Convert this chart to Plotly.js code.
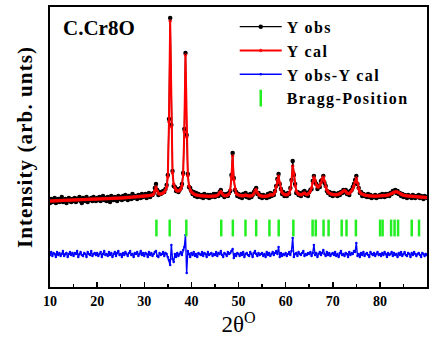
<!DOCTYPE html>
<html>
<head>
<meta charset="utf-8">
<script src="https://cdn.plot.ly/plotly-3.0.1.min.js"></script>
<style>
html,body{margin:0;padding:0;background:#fff;}
#chart{width:433px;height:340px;}
#chart .legendtext{letter-spacing:1.4px;}
#chart .legend .scrollbox{clip-path:none !important;}
#chart .ytitle{letter-spacing:1.1px;}
</style>
</head>
<body>
<div id="chart"></div>
<script>
// 2-theta grid: start and step of the scan
const twoThetaStart = 10;
const twoThetaStep = 0.25;

// Observed intensity (arb. units), one value per step from 10 to 90
const yObs = [
  84,88,85,87,89,84,86,88,85,87,90,85,86,88,84,87,89,86,85,88,
  86,89,85,88,87,90,86,84,89,87,86,90,85,88,87,89,86,90,87,86,
  89,87,90,86,88,91,87,89,86,90,88,85,91,88,87,90,89,86,91,88,
  90,87,91,88,92,89,87,91,90,88,93,89,91,90,88,92,91,89,93,90,
  91,93,89,92,94,90,93,92,94,99,103,97,92,95,93,94,96,95,98,102,
  112,168,269,162,116,101,100,96,98,95,97,99,103,114,158,234,152,113,100,99,
  96,93,95,91,94,90,93,92,90,92,89,93,91,90,92,89,92,90,91,93,
  90,93,92,91,95,97,92,93,90,92,93,91,94,96,112,134,109,97,95,91,
  93,90,92,89,93,91,94,90,92,89,93,90,92,95,97,99,93,94,90,92,
  89,92,90,91,89,93,90,94,91,93,92,96,101,108,113,103,98,93,95,91,
  93,91,94,93,99,107,126,112,103,94,95,92,94,91,93,95,96,92,94,91,
  95,97,98,106,111,105,103,98,101,100,106,107,111,104,101,96,94,95,92,94,
  91,94,92,93,91,94,92,95,94,97,95,97,93,95,92,96,97,100,103,107,
  111,103,99,94,95,91,93,91,92,90,93,90,92,89,91,90,92,89,91,90,
  92,90,93,91,90,93,91,93,91,94,93,96,95,97,94,96,93,94,91,93,
  90,92,91,89,92,90,91,89,92,90,89,91,90,92,89,91,90,88,91,90,
  89
];

// Calculated intensity
const yCal = [
  86,86,86,86.1,86.2,86.2,86.3,86.3,86.4,86.5,86.5,86.6,86.6,86.7,86.7,86.8,86.8,86.9,86.9,87,
  87,87.1,87.1,87.2,87.2,87.3,87.3,87.4,87.4,87.5,87.5,87.6,87.6,87.7,87.7,87.8,87.8,87.9,87.9,88,
  88,88,88.1,88.1,88.2,88.2,88.3,88.3,88.4,88.4,88.5,88.5,88.6,88.6,88.7,88.7,88.8,88.8,88.9,88.9,
  89,89,89.1,89.2,89.3,89.4,89.5,89.6,89.7,89.8,89.9,90,90.1,90.2,90.3,90.4,90.5,90.6,90.7,90.8,
  90.9,91,91.1,91.2,91.4,91.6,91.8,92.2,93,96,100,96,93.5,93,93,93.5,94,95,97,100,
  110,165,266,160,114,103,99,97,96,96,96.5,98,101,112,155,232,150,111,101,97,
  95,94,93,92.5,92,91.8,91.6,91.4,91.2,91,91,90.9,90.8,90.8,90.7,90.7,90.7,90.7,90.8,90.9,
  91,91.2,91.6,92.5,94.5,95.5,93.5,92,91.5,91.3,91.5,92,93,97,110,131,107,98,94,92.5,
  92,91.6,91.3,91.2,91.2,91.5,92,91.5,91.1,91,91,91.2,91.8,93.5,96.5,97.5,94.5,92.5,91.5,91,
  90.8,90.6,90.6,90.7,90.8,91,91.5,92.5,92,92,93,95,100,107,111,104,97,94.5,93.2,92.5,
  92.2,92.2,92.6,94,97.5,106,121,114,101,96,94,93,92.5,92.3,92.5,93.5,94,93,92.5,93,
  94,96,99,104,110,107,102,100,100,101.5,104,108,110,106,100,97,95,94,93.3,92.8,
  92.5,92.3,92.2,92.3,92.5,92.8,93.3,94,95,96,96.5,95.5,94,93.5,93.5,94.5,96,98,101,105,
  109,104,98,95,93.5,92.8,92.3,92,91.7,91.5,91.3,91.1,91,90.9,90.8,90.8,90.8,90.8,90.9,91,
  91.1,91.3,91.4,91.4,91.4,91.5,91.7,92,92.4,92.9,93.5,94.2,94.8,95.2,95.3,95,94.3,93.5,92.8,92.2,
  91.8,91.5,91.3,91.1,91,90.9,90.8,90.7,90.6,90.5,90.4,90.3,90.2,90.1,90,89.9,89.8,89.7,89.6,89.5,
  89.5
];

// Difference curve (Yobs - Ycal), plotted with an offset below the pattern
const yDiff = [
  32,35,31,34,33,30,35,32,34,31,33,36,31,33,34,30,33,35,32,34,
  31,34,33,36,30,33,35,32,31,34,33,30,35,33,32,36,31,33,34,32,
  34,31,33,35,30,33,36,32,33,31,35,32,34,30,33,35,31,34,36,32,
  33,30,34,32,35,33,31,34,36,32,33,30,34,33,35,31,33,36,32,34,
  31,34,33,30,35,32,34,31,33,35,36,31,30,34,32,33,35,31,34,33,
  30,27,22,42,28,25,33,30,34,31,33,35,32,37,40,52,14,36,33,30,
  34,32,35,31,33,30,34,33,32,35,31,34,33,30,35,32,33,34,31,33,
  32,35,31,34,33,36,32,30,34,33,31,35,33,34,36,38,29,33,31,34,
  33,31,34,32,35,30,33,34,32,31,35,33,30,34,36,33,31,34,32,33,
  34,31,33,30,35,32,34,31,33,35,32,34,36,33,40,30,34,31,33,32,
  34,31,33,35,32,36,49,30,33,34,31,35,33,32,34,36,31,33,32,34,
  33,35,31,34,42,32,34,30,33,35,32,34,37,33,31,35,32,34,31,33,
  34,32,35,31,33,30,34,36,32,33,31,34,33,30,35,32,34,33,36,35,
  44,31,33,30,34,32,35,31,33,34,32,30,35,33,32,34,31,33,35,32,
  33,31,34,32,35,33,30,34,32,33,35,31,34,32,33,30,34,32,35,31,
  33,35,32,31,34,33,30,34,32,35,33,31,33,34,32,30,34,33,31,33,
  32
];

// Bragg reflection positions (2-theta) and the level where their ticks are drawn
const braggPositions = [32.58,35.40,38.93,46.34,48.80,51.48,53.75,56.56,58.53,61.64,
  65.72,66.40,68.05,69.11,71.90,72.92,74.91,80.05,80.58,82.38,83.12,83.86,86.76,88.31];
const braggLevel = 59;

const xTicks = [10,20,30,40,50,60,70,80,90];
const sampleLabel = 'C.Cr8O';

const twoTheta = yObs.map((_, i) => twoThetaStart + i * twoThetaStep);
const braggY = braggPositions.map(() => braggLevel);

const serif = 'Liberation Serif, Times New Roman, serif';

const traces = [
  {x: twoTheta, y: yObs, name: 'Y obs', type: 'scatter', mode: 'lines+markers',
   line: {color: '#000', width: 1.3}, marker: {color: '#000', size: 4.5}},
  {x: twoTheta, y: yCal, name: 'Y cal', type: 'scatter', mode: 'lines+markers',
   line: {color: '#ff0000', width: 2}, marker: {color: '#ff0000', size: 2.5, symbol: 'circle-open'}},
  {x: twoTheta, y: yDiff, name: 'Y obs-Y cal', type: 'scatter', mode: 'lines+markers',
   line: {color: '#0000ff', width: 1.4}, marker: {color: '#0000ff', size: 2.5}},
  {x: braggPositions, y: braggY, name: 'Bragg-Position', type: 'scatter', mode: 'markers',
   marker: {symbol: 'line-ns', size: 12, color: '#22ee22', line: {color: '#22ee22', width: 2.5}}}
];

const layout = {
  width: 433, height: 340,
  margin: {l: 50, r: 6, t: 7, b: 53},
  paper_bgcolor: '#fff', plot_bgcolor: '#fff',
  showlegend: true,
  legend: {x: 0.49, y: 0.99, xanchor: 'left', yanchor: 'top', bgcolor: 'rgba(0,0,0,0)',
    itemwidth: 42,
    font: {family: serif, size: 16, color: '#000', weight: 'bold'}, tracegroupgap: 0},
  xaxis: {range: [10, 90], tickvals: xTicks, ticks: 'inside', ticklen: 5, tickwidth: 1.5,
    tickcolor: '#000', showline: true, linecolor: '#000', linewidth: 2, mirror: true,
    showgrid: false, zeroline: false,
    minor: {dtick: 5, ticks: 'inside', ticklen: 3, tickwidth: 1.5, tickcolor: '#000'},
    tickfont: {family: serif, size: 14, color: '#000', weight: 'bold'},
    title: {text: '2θ<sup>O</sup>', font: {family: serif, size: 23, color: '#000'}, standoff: 7}},
  yaxis: {range: [0, 280], showticklabels: false, ticks: '', showline: true, linecolor: '#000',
    linewidth: 2, mirror: true, showgrid: false, zeroline: false,
    title: {text: 'Intensity (arb. unts)', font: {family: serif, size: 21, color: '#000', weight: 'bold'}, standoff: 10}},
  annotations: [{text: sampleLabel, xref: 'paper', yref: 'paper', x: 0.03, y: 0.975,
    xanchor: 'left', yanchor: 'top', showarrow: false,
    font: {family: serif, size: 21, color: '#000', weight: 'bold'}}]
};

Plotly.newPlot('chart', traces, layout, {displayModeBar: false, staticPlot: true});
</script>
</body>
</html>
